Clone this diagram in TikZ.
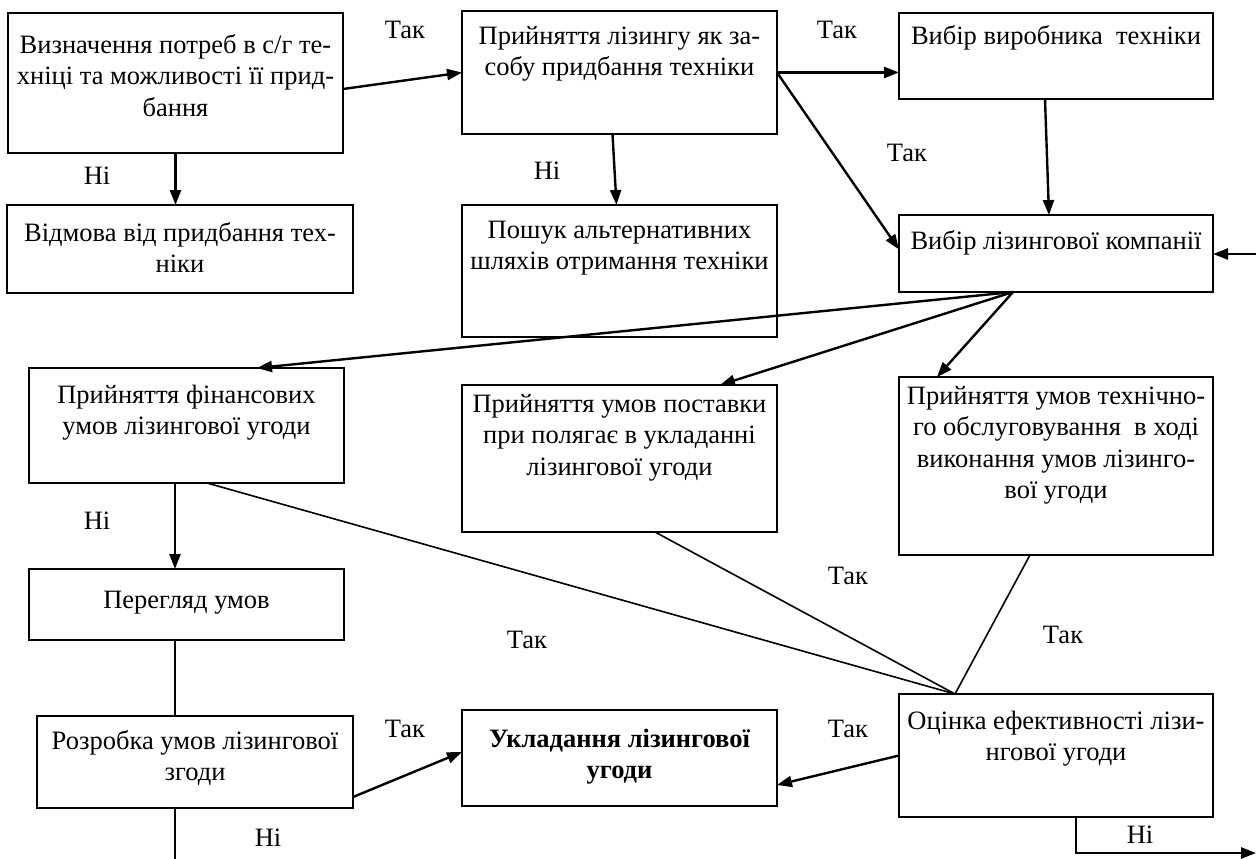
\documentclass[tikz,border=0pt]{standalone}
\usepackage{fontspec}
\setmainfont{Liberation Serif}
\usetikzlibrary{arrows.meta,calc}
\tikzset{
  box/.style={draw, line width=1.4pt, anchor=north west, inner sep=0pt, outer sep=0pt},
  txt/.style={anchor=north, align=center, inner sep=0pt, font=\fontsize{26.5}{31.5}\selectfont},
  lbl/.style={inner sep=0pt, font=\fontsize{26.5}{31.5}\selectfont},
  arr/.style={line width=2.4pt, -{Triangle[length=15pt,width=11pt]}},
  ln/.style={line width=1.6pt},
}
\newcommand\st{\rule{0pt}{19pt}}
\begin{document}
\begin{tikzpicture}[x=1pt,y=-1pt]
\useasboundingbox (0,0) rectangle (1256,859);
\fill[white] (0,0) rectangle (1256,859);
% boxes
\node[box, minimum width=335pt, minimum height=140pt] (A) at (8,13) {};
\node[txt] (At) at ($(A.north)+(0,21)$) {\st Визначення потреб в с/г те-\\хніці та можливості її прид-\\бання};
\node[box, minimum width=346pt, minimum height=88pt] (B) at (7,205) {};
\node[txt] (Bt) at ($(B.north)+(0,17)$) {\st Відмова від придбання тех-\\ніки};
\node[box, minimum width=315pt, minimum height=123pt] (C) at (462,11) {};
\node[txt] (Ct) at ($(C.north)+(0,14)$) {\st Прийняття лізингу як за-\\собу придбання техніки};
\node[box, minimum width=315pt, minimum height=132pt] (D) at (462,205) {};
\node[txt] (Dt) at ($(D.north)+(0,14)$) {\st Пошук альтернативних\\шляхів отримання техніки};
\node[box, minimum width=314pt, minimum height=86pt] (E) at (899,13) {};
\node[txt] (Et) at ($(E.north)+(0,12)$) {\st Вибір виробника~~техніки};
\node[box, minimum width=314pt, minimum height=77pt] (F) at (899,215) {};
\node[txt] (Ft) at ($(F.north)+(0,15)$) {\st Вибір лізингової компанії};
\node[box, minimum width=315pt, minimum height=115pt] (G) at (29,368) {};
\node[txt] (Gt) at ($(G.north)+(0,16)$) {\st Прийняття фінансових\\умов лізингової угоди};
\node[box, minimum width=315pt, minimum height=147pt] (H) at (462,385) {};
\node[txt] (Ht) at ($(H.north)+(0,8)$) {\st Прийняття умов поставки\\при полягає в укладанні\\лізингової угоди};
\node[box, minimum width=314pt, minimum height=178pt] (I) at (899,377) {};
\node[txt] (It) at ($(I.north)+(0,8)$) {\st Прийняття умов технічно-\\го обслуговування~~в ході\\виконання умов лізинго-\\вої угоди};
\node[box, minimum width=315pt, minimum height=71pt] (J) at (29,569) {};
\node[txt] (Jt) at ($(J.north)+(0,20)$) {\st Перегляд умов};
\node[box, minimum width=316pt, minimum height=92pt] (K) at (37,716) {};
\node[txt] (Kt) at ($(K.north)+(0,14)$) {\st Розробка умов лізингової\\згоди};
\node[box, minimum width=315pt, minimum height=96pt] (L) at (462,710) {};
\node[txt, font=\fontsize{26.5}{31.5}\selectfont\bfseries] (Lt) at ($(L.north)+(0,18)$) {\st Укладання лізингової\\угоди};
\node[box, minimum width=314pt, minimum height=123pt] (M) at (899,694) {};
\node[txt] (Mt) at ($(M.north)+(0,16)$) {\st Оцінка ефективності лізи-\\нгової угоди};
% connectors
\draw[arr] ($(A.east)+(0,6)$) -- (C.west);
\draw[arr] (A.south) -- (A.south |- B.north);
\draw[arr] ($(C.south)+(-7,0)$) -- ($(D.north)+(-3,0)$);
\draw[arr] (C.east) -- (C.east -| E.west);
\draw[arr] (C.east) -- ($(F.west)+(0,-4)$);
\draw[arr] ($(E.south)+(-11,0)$) -- ($(F.north)+(-7,0)$);
\coordinate (in1) at (1256,254);
\draw[arr] (in1) -- (F.east |- in1);
\coordinate (Fo) at ($(F.south)+(-43,0)$);
\draw[arr] (Fo) -- ($(G.north)+(70.5,0)$);
\draw[arr] (Fo) -- ($(H.north)+(100.5,0)$);
\draw[arr] (Fo) -- ($(I.north)+(-119,0)$);
\coordinate (Gs) at ($(G.south)+(-11.5,0)$);
\draw[arr] (Gs) -- (Gs |- J.north);
\draw[ln] (Gs |- J.south) -- (Gs |- K.north);
\coordinate (out2) at (175,859);
\draw[ln] (Gs |- K.south) -- (out2);
\draw[arr] ($(K.south east)+(0,-11)$) -- ($(L.west)+(0,-6)$);
\draw[arr] (M.west) -- ($(L.east)+(0,27)$);
\coordinate (Mtop) at ($(M.north west)+(56,0)$);
\draw[ln] ($(G.south)+(20.5,0)$) -- (Mtop);
\draw[ln] ($(H.south)+(35.5,0)$) -- (Mtop);
\draw[ln] ($(I.south)+(-26,0)$) -- (Mtop);
\coordinate (out3) at (1256,853);
\draw[arr] ($(M.south west)+(177,0)$) |- (out3);
% labels
\node[lbl] (l1) at (405,30) {Так};
\node[lbl] (l2) at (837,30) {Так};
\node[lbl] (l3) at (907,153) {Так};
\node[lbl] (l4) at (97,176) {Ні};
\node[lbl] (l5) at (547,171) {Ні};
\node[lbl] (l6) at (97,521) {Ні};
\node[lbl] (l7) at (527,640) {Так};
\node[lbl] (l8) at (848,576) {Так};
\node[lbl] (l9) at (1063,635) {Так};
\node[lbl] (l10) at (405,729) {Так};
\node[lbl] (l11) at (848,729) {Так};
\node[lbl] (l12) at (268,838) {Ні};
\node[lbl] (l13) at (1140,835) {Ні};
\end{tikzpicture}
\end{document}
